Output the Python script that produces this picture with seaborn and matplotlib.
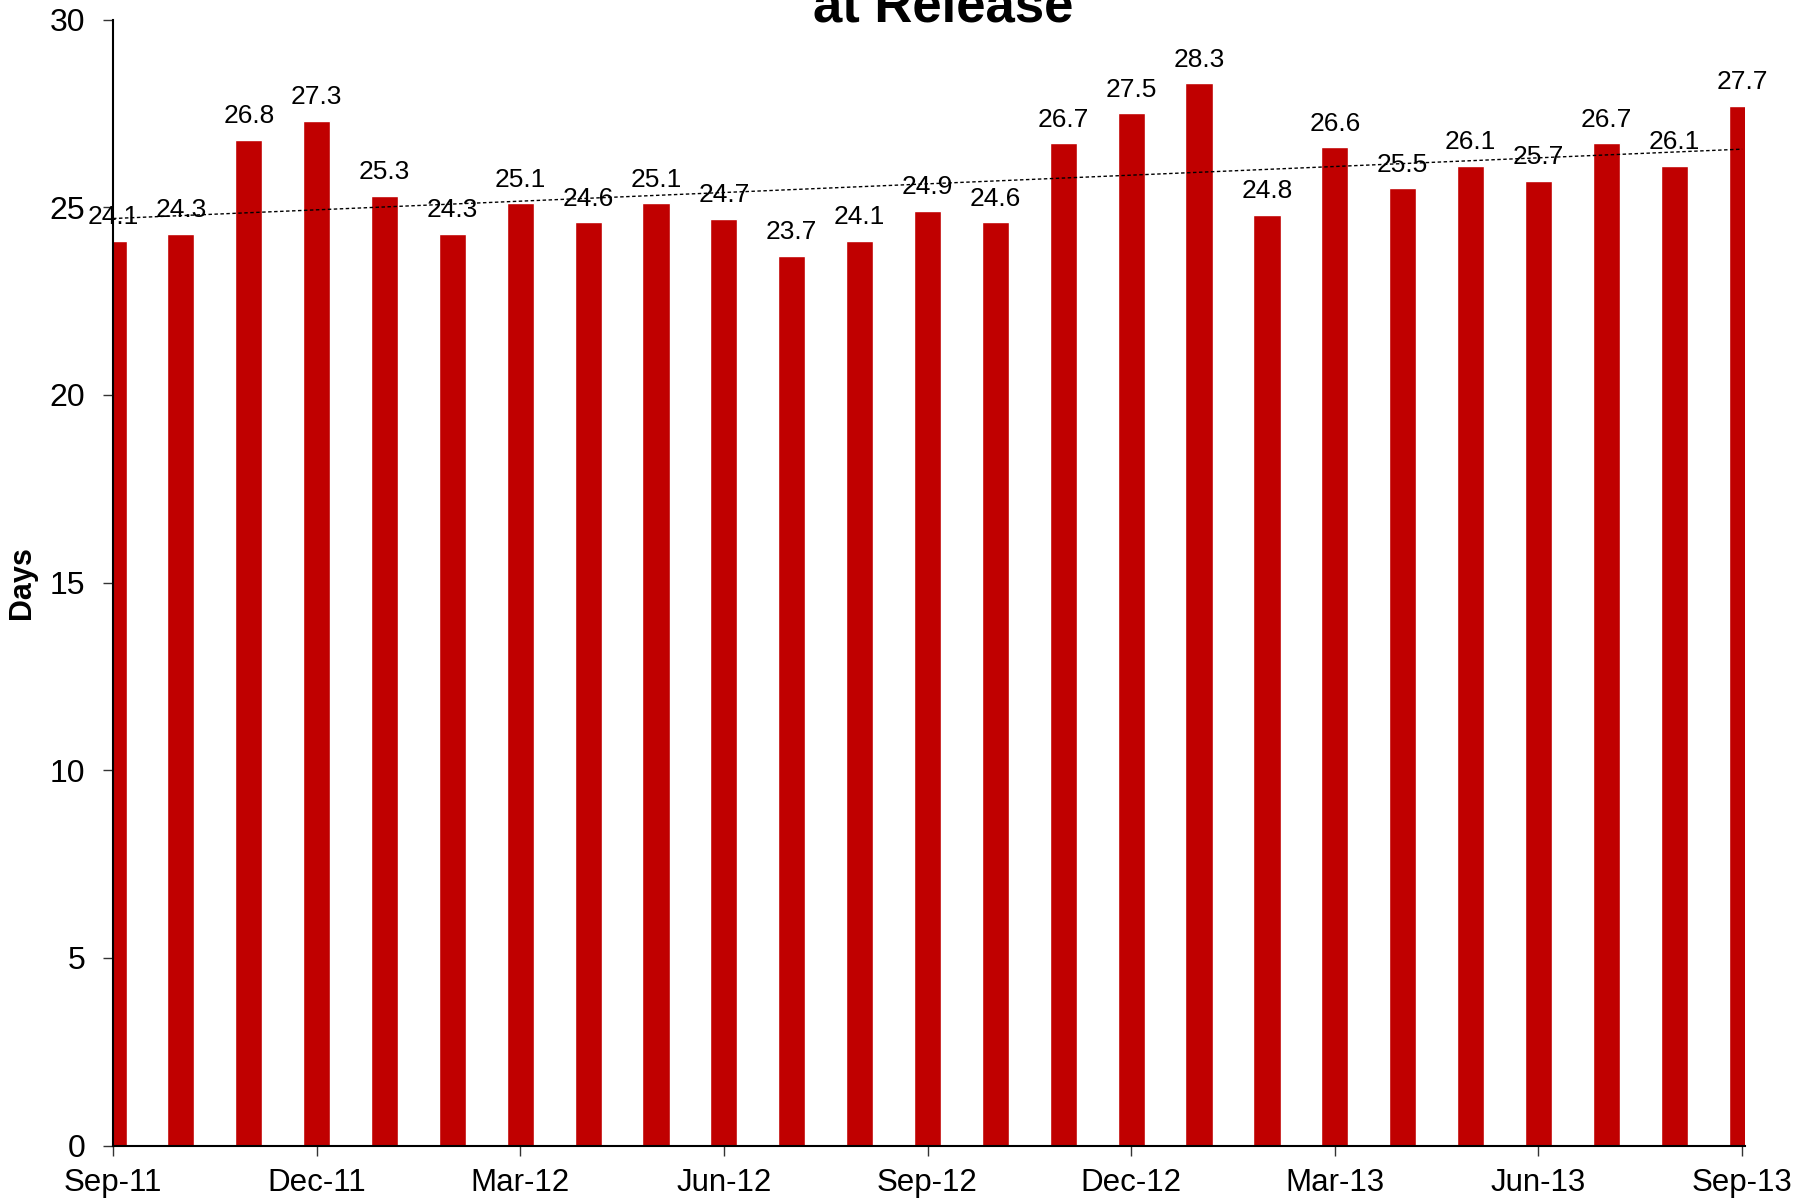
import numpy as np
import pandas as pd
import matplotlib
matplotlib.use("Agg")
import matplotlib.pyplot as plt
import seaborn as sns

months = ["Sep-11", "Oct-11", "Nov-11", "Dec-11", "Jan-12", "Feb-12", "Mar-12",
          "Apr-12", "May-12", "Jun-12", "Jul-12", "Aug-12", "Sep-12", "Oct-12",
          "Nov-12", "Dec-12", "Jan-13", "Feb-13", "Mar-13", "Apr-13", "May-13",
          "Jun-13", "Jul-13", "Aug-13", "Sep-13"]
days = [24.1, 24.3, 26.8, 27.3, 25.3, 24.3, 25.1, 24.6, 25.1, 24.7, 23.7, 24.1,
        24.9, 24.6, 26.7, 27.5, 28.3, 24.8, 26.6, 25.5, 26.1, 25.7, 26.7, 26.1, 27.7]
tick_labels = ["Sep-11", "Dec-11", "Mar-12", "Jun-12", "Sep-12", "Dec-12",
               "Mar-13", "Jun-13", "Sep-13"]
title_text = "at Release"
ylabel_text = "Days"

sns.set_theme(style="white")
plt.rcParams['font.family'] = ['Liberation Sans', 'DejaVu Sans']
plt.rcParams['text.color'] = 'black'
plt.rcParams['axes.labelcolor'] = 'black'
plt.rcParams['xtick.color'] = 'black'
plt.rcParams['ytick.color'] = 'black'

df = pd.DataFrame({"month": months, "days": days})

fig = plt.figure(figsize=(18.08, 12.03), dpi=100)
ax = fig.add_axes([113 / 1808, 1 - 1145.5 / 1203, (1745.5 - 113) / 1808, (1145.5 - 19.6) / 1203])

sns.barplot(data=df, x="month", y="days", order=months, color="#C00000",
            saturation=1, width=0.4, ax=ax, zorder=2)

# linear trend line
xs = np.arange(len(days))
coef = np.polyfit(xs, days, 1)
ax.plot(xs, np.polyval(coef, xs), color="black", linewidth=1.0,
        linestyle=(0, (2.5, 1.8)), zorder=3)

# data labels
for i, v in enumerate(days):
    ax.annotate(f"{v:.1f}", xy=(i, v), xytext=(0, 12), textcoords="offset points",
                ha="center", va="baseline", fontsize=19, color="black", zorder=4)

ax.set_xlim(0, 24.05)
ax.set_ylim(0, 30)
ax.set_yticks(np.arange(0, 31, 5))
ax.set_xticks(np.arange(0, 25, 3))
ax.set_xticklabels(tick_labels)
ax.tick_params(axis="y", which="major", direction="out", length=7, width=1,
               color="#333333", labelcolor="black", labelsize=23, pad=13, left=True)
ax.tick_params(axis="x", which="major", direction="out", length=7, width=1,
               color="#333333", labelcolor="black", labelsize=22.5, pad=9, bottom=True)

ax.set_xlabel("")
ax.set_ylabel(ylabel_text, fontsize=22, fontweight="bold", color="black")
ax.yaxis.set_label_coords(-0.0466, 0.5)

for s in ["top", "right"]:
    ax.spines[s].set_visible(False)
for s in ["left", "bottom"]:
    ax.spines[s].set_color("black")
    ax.spines[s].set_linewidth(1.5)
    ax.spines[s].set_zorder(5)

fig.text(943 / 1808, 1 - 21.7 / 1203, title_text, ha="center", va="baseline",
         fontsize=38, fontweight="bold", color="black")

fig.savefig("out.png", dpi=100)
